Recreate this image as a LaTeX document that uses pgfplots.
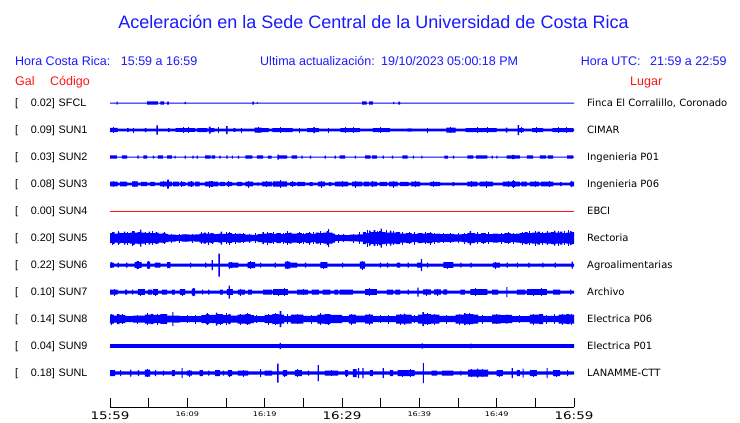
\documentclass[border=0pt]{standalone}
\usepackage{pgfplots}
\pgfplotsset{compat=1.18}
\usepackage{pgfplotstable}
\usepgfplotslibrary{fillbetween}
\usepackage{fontspec}
\setmainfont{Liberation Sans}
\newfontfamily\dv{DejaVu Sans}
\newfontfamily\dvw[FakeStretch=1.28]{DejaVu Sans}
\definecolor{tblue}{RGB}{0,0,255}
\definecolor{hblue}{RGB}{25,25,255}
\definecolor{hred}{RGB}{255,20,20}
\newcommand\tl{\dvw\fontsize{10.5pt}{11pt}\selectfont}
\newcommand\ts{\dvw\fontsize{6.4pt}{7pt}\selectfont}
\newcommand\hf{\fontsize{12.5pt}{14pt}\selectfont}
\newcommand\lf{\fontsize{10.8pt}{12pt}\selectfont}
\newcommand\rf{\dv\fontsize{10pt}{12pt}\selectfont}

% amplitude envelopes (t in minutes from 15:59, a = half-width of trace in px)
\pgfplotstableread{
t a
0 0.5
0.85 1.5
1.0 0.5
4.8 1.7
6.2 0.5
6.5 1.7
7.0 0.5
7.4 1.5
7.6 0.5
9.65 1.2
9.8 0.5
18.4 1.5
18.6 0.5
19.0 1.0
19.1 0.5
32.6 1.7
33.2 0.5
33.5 1.7
34.0 0.5
36.6 1.2
36.75 0.5
37.3 1.5
37.5 0.5
60 0.5
}\tSFCL
\pgfplotstableread{
t a
0 2.2
1.0 1.3
2.2 1.8
2.4 1.3
4.5 2.0
4.7 1.3
6.0 4.7
6.2 1.3
7.5 2.0
7.7 1.3
8.5 1.8
11.0 1.3
11.3 2.0
12.6 1.3
12.8 3.5
13.0 2.0
13.5 1.3
15.0 4.0
15.2 1.3
16.0 1.8
16.2 1.3
18.7 2.5
19.6 2.0
20.5 1.3
21.0 2.0
23.6 1.3
25.5 2.0
26.3 3.0
26.5 2.0
27.0 1.3
29.8 2.0
32.3 1.3
34.0 2.0
36.2 1.3
38.5 1.6
39.0 1.3
43.5 2.5
44.7 1.3
46.0 2.0
50.0 1.3
51.2 2.5
51.4 1.3
52.7 5.0
52.9 2.0
53.5 1.3
54.6 2.0
56.0 1.3
57.2 2.0
59.9 1.3
60 1.3
}\tSUNa
\pgfplotstableread{
t a
0 1.7
0.9 0.5
1.55 1.7
2.2 0.5
3.55 1.7
3.7 0.5
4.3 1.7
4.8 0.5
5.55 1.5
5.7 0.5
6.2 1.7
6.85 0.5
7.4 1.7
8.0 0.5
8.35 1.5
8.5 0.5
9.65 1.5
9.8 0.5
10.65 1.5
10.8 0.5
11.2 1.5
11.35 0.5
12.3 1.7
13.0 0.5
13.15 1.7
13.6 0.5
14.15 1.5
14.3 0.5
15.05 1.7
15.2 0.5
15.75 1.5
15.9 0.5
16.55 1.5
16.7 0.5
17.5 1.7
18.4 0.5
19.0 1.7
19.8 0.5
20.4 1.5
20.9 0.5
21.65 2.5
21.85 1.7
22.9 0.5
23.5 1.7
24.2 0.5
24.75 1.5
24.9 0.5
25.85 1.5
26.0 0.5
27.75 1.5
27.9 0.5
29.05 1.5
29.2 0.5
29.7 1.7
30.4 0.5
31.65 1.5
31.8 0.5
33.0 1.7
33.7 0.5
33.9 1.7
34.5 0.5
35.25 1.5
35.4 0.5
36.45 1.5
36.6 0.5
37.8 1.7
38.5 0.5
39.15 1.5
39.3 0.5
40.25 1.5
40.4 0.5
43.25 1.5
43.7 0.5
44.35 1.5
44.5 0.5
46.2 1.7
47.0 0.5
47.3 1.7
48.8 0.5
49.35 1.5
49.5 0.5
49.95 1.5
50.1 0.5
51.3 1.7
52.0 2.2
52.3 1.7
53.0 0.5
53.9 1.7
54.7 0.5
55.6 1.7
56.4 0.5
56.6 1.7
57.3 0.5
59.1 1.7
59.9 0.5
60 0.5
}\tSUNb
\pgfplotstableread{
t a
0 2.4
1.0 1.3
1.3 2.4
2.2 1.3
2.85 2.6
3.6 1.3
4.0 2.2
4.8 1.3
5.2 2.2
5.8 1.3
6.45 2.4
7.4 4.5
7.6 2.4
8.0 1.3
8.15 2.4
8.9 1.3
9.1 2.2
9.7 1.3
10.1 2.4
10.8 1.3
11.0 2.4
11.6 1.3
12.3 2.4
13.0 2.8
13.3 2.4
14.0 1.3
14.2 2.2
14.9 1.3
15.1 2.2
15.8 1.3
16.4 2.2
17.1 1.3
17.5 2.4
18.5 1.3
19.1 2.0
19.2 1.3
19.65 2.4
20.95 1.3
21.1 2.6
22.9 1.3
23.3 2.2
24.0 1.3
24.2 2.2
25.2 1.3
25.8 2.0
26.2 1.3
26.9 2.4
27.8 1.3
28.3 2.0
28.6 1.3
29.1 2.4
30.8 1.3
31.3 2.4
32.6 1.3
32.8 2.4
33.5 1.6
33.7 2.4
34.5 1.3
34.9 2.2
35.8 1.3
36.1 2.4
37.2 1.3
37.5 2.2
38.6 1.3
38.9 2.4
40.1 1.3
41.4 2.2
42.7 1.3
44.3 2.0
44.5 1.3
46.2 2.4
47.5 1.3
47.8 2.4
49.5 1.3
50.8 2.4
52.0 2.8
52.4 2.4
53.0 1.3
53.2 2.4
53.9 1.3
54.3 2.4
55.5 1.3
55.7 2.4
57.3 1.3
58.2 2.0
58.4 1.3
59.5 2.4
60 2.4
}\tSUNc
\pgfplotstableread{
t a
0 5
0.4 6
0.6 4.5
1.0 5.5
1.3 4.8
1.8 6.5
2.0 5
2.6 5.5
3.0 7
3.2 5.5
3.6 6
3.9 8.5
4.05 5.5
4.5 4.8
5.0 6.5
5.2 5
5.8 5.5
6.3 4.5
6.8 5.2
7.2 4.2
7.5 3.5
8.5 3.2
9.3 3.6
10.2 3.3
11.0 3.6
11.6 4.5
12.1 5.5
12.4 4.5
13.0 5
13.4 4
14.0 4.5
14.3 6.5
14.5 4.2
15.2 4.8
15.8 4
16.5 4.5
17.0 3.8
17.5 3.5
18.3 3.2
19.1 4
19.7 6
19.9 4.5
20.5 5
21.0 4.2
21.5 5
22.1 4
22.6 4.8
23.2 5.5
23.5 4.5
24.2 4.8
24.8 4
25.3 5
26.0 4.2
26.6 5.5
27.0 4.8
27.6 5.5
28.0 7
28.2 9
28.35 5.5
28.8 4.5
29.1 3.2
30.5 3
31.0 3.3
32.0 3.6
32.7 6
33.1 5
33.5 7.5
33.7 6
34.1 8
34.3 6
34.8 7
35.0 9.5
35.15 6
35.6 5.5
36.2 7.5
36.4 5.5
37.0 6
37.5 4.5
38.3 5
39.0 4.2
39.8 5
40.4 4.5
41.0 5
41.7 4.2
42.3 4.5
42.7 3.8
43.6 4.2
44.5 3.6
45.5 4
46.2 5
46.5 7
46.7 5
47.2 4.2
48.0 4.8
48.6 4
49.5 4.5
50.2 4
51.0 4.8
51.8 4.2
52.5 4.5
53.0 5
53.6 6
54.0 5
54.6 5.5
55.3 6.5
55.6 5
56.3 5.5
57.0 6
57.4 7.5
57.6 5.5
58.2 6.5
58.5 5
59.0 5.5
59.5 7
59.7 6
60 6
}\tSUNe
\pgfplotstableread{
t a
0 2.5
0.5 1.5
1.0 2.5
1.15 1.5
2.1 2.5
2.25 1.5
3.2 2.8
3.45 4
3.6 2.8
4.1 1.5
4.8 3.5
5.2 1.5
5.8 2.5
6.5 1.5
7.4 3
7.8 1.5
10.35 2.5
10.5 1.5
12.3 2.5
12.45 1.5
13.15 5
13.3 1.5
14.0 11.5
14.2 1.5
15.3 2.5
15.6 3
15.8 2.5
16.6 1.5
17.8 3
18.75 1.5
19.4 2.5
19.55 1.5
21.3 2.5
21.45 1.5
22.6 3.5
23.3 2.5
24.2 1.5
25.2 2.5
25.35 1.5
27.2 3
28.1 1.5
30.0 2.5
30.15 1.5
32.3 3.5
33.0 1.5
34.9 2.5
35.05 1.5
35.8 2.5
35.95 1.5
37.1 2.5
37.5 1.5
38.5 2.5
38.65 1.5
39.7 2.5
40.2 6
40.35 1.5
41.0 2.5
41.15 1.5
43.1 2.8
44.4 1.5
45.3 2.5
45.45 1.5
46.6 2.5
46.75 1.5
49.5 2.5
50.4 1.5
51.3 2.5
51.45 1.5
52.6 2.5
52.75 1.5
54.1 2.5
54.25 1.5
55.9 2.5
56.05 1.5
57.5 2.5
57.65 1.5
59.7 3.5
59.85 1.5
60 1.5
}\tSUNf
\pgfplotstableread{
t a
0 2.5
1.0 1.5
1.95 2.5
2.2 1.5
2.85 2.5
3.0 1.5
3.6 2.8
4.5 1.5
4.9 2.5
5.4 1.5
5.55 2.8
6.2 1.5
6.7 2.5
7.4 1.5
8.0 2.5
8.4 1.5
9.05 2.8
9.7 1.5
10.6 3.5
10.75 4
10.9 3.5
11.0 1.5
11.9 2.5
12.05 1.5
12.7 2.5
12.85 1.5
14.2 2.5
14.6 1.5
15.1 2.8
15.35 6.5
15.5 2.8
15.9 1.5
16.55 2.5
17.45 1.5
17.85 2.5
18.35 1.5
19.8 2.5
20.95 1.5
21.1 2.8
23.0 1.5
24.2 2.5
25.6 1.5
26.1 2.5
27.0 1.5
27.5 2.5
28.5 1.5
29.0 2.5
29.5 1.5
29.7 2.5
31.4 1.5
33.0 2.8
34.5 1.5
35.8 2.5
36.6 1.5
36.9 2.5
37.5 1.5
38.5 2.5
38.65 1.5
39.75 4.5
39.9 1.5
40.5 2.6
41.5 1.5
41.9 2.6
42.8 1.5
43.1 2.6
43.6 1.5
45.3 2.5
45.9 1.5
46.6 2.8
48.8 1.5
49.4 2.5
50.2 1.5
51.25 5
51.4 1.5
52.6 2.5
53.7 1.5
53.9 2.8
56.5 1.5
57.3 2.5
58.2 1.5
59.5 2.5
59.65 1.5
60 1.5
}\tSUNg
\pgfplotstableread{
t a
0 4.5
0.5 3.5
0.9 5
1.2 4.2
2.0 3
3.0 3.5
4.5 4.5
5.3 5.2
5.6 4.2
6.5 4.8
7.4 3.3
8.05 7
8.2 3.5
9.0 3
11.8 4
12.4 5
12.8 4.2
13.7 6.5
13.9 4.8
14.6 4
15.3 5
15.6 3.5
16.5 4.5
17.5 5
18.2 4
18.6 3
20.0 4.2
21.0 5
21.8 4.5
21.95 8
22.15 4.5
22.5 3
23.4 4.5
25.0 3.2
26.8 4.5
27.8 5
28.5 4.2
30.0 3
30.9 4.5
31.8 3.3
33.0 4.5
34.0 3
37.0 4.5
38.0 5.5
38.2 4.5
39.0 3
39.8 4.5
40.4 7
40.6 5
41.5 4.5
42.6 3.2
44.7 4.5
45.8 6
46.0 5
47.0 4.5
47.6 3
49.4 4.5
50.5 4
51.2 4.5
51.4 4.2
52.0 3
54.3 4.5
55.5 5
56.0 3.2
58.0 4.5
59.0 5
59.4 4.5
60 4.5
}\tSUNh
\pgfplotstableread{
t a
0 1.9
21.95 3.2
22.1 1.9
40.3 2.6
40.45 1.9
46.6 2.4
46.75 1.9
60 1.9
}\tSUNi
\pgfplotstableread{
t a
0 3
0.65 1.6
1.3 3
1.45 1.6
2.6 3.5
2.75 1.6
3.6 3
3.75 1.6
4.5 3.5
5.2 1.6
5.8 3
5.95 1.6
6.85 2.5
7.0 1.6
8.0 3
8.4 1.6
9.25 5
9.4 1.6
9.95 2.5
10.6 1.6
11.6 3
12.0 1.6
12.7 2.5
12.85 1.6
13.6 3
14.2 1.6
14.6 2.5
14.75 1.6
15.25 3
15.8 1.6
16.55 2.5
17.85 1.6
19.4 4
19.55 1.6
20.0 2.5
20.95 1.6
21.6 9.5
21.8 1.6
22.35 3
22.9 1.6
23.9 3
24.8 1.6
25.6 2.5
25.75 1.6
26.85 8
27.0 1.6
27.8 2.5
29.5 1.6
30.4 3
30.8 1.6
31.4 4
31.9 1.6
32.05 5
32.2 1.6
32.65 5
32.8 1.6
33.6 3
34.0 1.6
35.25 5
35.4 1.6
36.2 3
36.6 1.6
37.2 3
39.4 1.6
40.45 10
40.6 1.6
41.6 2.5
42.3 1.6
42.9 2.5
44.4 1.6
45.3 2.5
45.45 1.6
46.3 3.5
47.45 4.5
47.6 3.5
48.9 1.6
50.0 3
50.8 1.6
51.95 5
52.1 1.6
52.6 3
53.0 1.6
53.35 4.5
53.5 1.6
54.3 3
55.2 1.6
56.45 5
56.6 1.6
57.3 3
58.2 1.6
59.1 3
59.25 1.6
60 1.6
}\tSUNl

% narrow extra peaks (t, half-height in px)
\pgfplotstableread{
t a
0.5 3
3.0 2.5
9.5 3
10.2 2.8
14.0 3
17.0 2.5
19.2 3.2
22.0 2.8
24.5 2.5
28.2 2.5
30.5 3
31.5 2.8
35.0 2.8
41.0 2.5
44.0 3.2
47.5 3
48.8 2.8
53.2 3.2
55.2 2.8
58.0 3
59.0 2.8
}\pSUNa
\pgfplotstableread{
t a
0.5 3.2
3.2 3.2
6.9 3
9.3 3.2
10.5 3
12.9 3.5
15.3 3.2
17.9 3.5
20.2 3.3
22.0 3.8
23.6 3.2
27.3 3.5
30.0 3.3
31.8 3.5
34.0 3.2
36.6 3.5
39.5 3.3
41.8 3.2
46.8 3.3
48.7 3.5
51.5 3.3
52.2 3.8
55.0 3.3
56.8 3.2
59.7 3.3
}\pSUNc
\pgfplotstableread{
t a
0.3 6.5
1.1 7
2.2 6.5
2.9 7.5
4.6 6.5
5.5 7
6.0 6
7.0 6
8.0 4.5
9.0 4.5
9.8 4.2
10.7 4.5
11.8 6
12.7 6.5
13.2 5.5
15.0 6
15.5 6.5
16.2 5.5
17.2 5
18.0 4.5
18.8 5
20.3 6.5
21.2 6
22.4 5.5
23.0 7
24.5 6
25.0 5.5
25.8 6.5
26.3 6
27.2 7
29.6 4.5
30.2 4
31.5 4.5
32.3 6
33.3 8.5
34.6 7.5
35.8 8
36.7 7
37.8 6.5
38.7 6
39.4 6.5
40.8 6
41.4 6.5
42.0 5.5
43.1 5
44.0 5
45.0 5
45.8 5.5
47.5 6
48.3 5.5
49.0 6
50.6 5.5
51.5 6
52.2 5.5
53.3 6.5
54.3 7
55.0 7.5
55.9 6.5
56.6 7
58.0 7.5
58.8 7
59.3 8
}\pSUNe
\pgfplotstableread{
t a
0.2 3
3.7 4
5.0 4
15.5 3.5
18.2 4
23.0 4
27.6 3.5
32.6 4.5
43.7 3.5
49.8 3.5
}\pSUNf
\pgfplotstableread{
t a
0.6 3.5
4.0 3.5
5.9 3.5
9.4 3.5
16.9 3.5
21.8 3.5
22.6 3.8
25.0 3.2
33.6 3.8
40.9 3.5
42.3 3.5
47.3 3.8
54.7 3.5
55.8 3.8
}\pSUNg
\pgfplotstableread{
t a
0.2 5.5
1.6 5
3.5 4.5
4.9 6
6.2 5.5
7.0 5
10.0 4
11.0 4.5
12.6 6
14.3 5.5
15.0 6
16.9 5.5
17.8 6
19.0 4
20.5 5.5
21.4 6
23.0 5
24.2 5
26.0 4.5
27.2 6
28.2 5.5
29.3 4
31.2 5.5
33.5 5.5
35.0 4
36.0 4.5
37.5 5.5
39.4 4
41.0 6
41.9 5.5
43.5 4.5
45.2 5.5
46.5 6
48.2 4.5
50.0 5
53.0 4
54.8 5.5
56.5 4.5
57.5 5
58.5 5.5
59.7 5.5
}\pSUNh
\pgfplotstableread{
t a
4.8 4
10.3 3.5
15.5 3.5
17.2 3.5
22.6 3.5
24.3 3.8
28.6 3.2
30.6 3.5
37.8 3.5
38.8 3.8
46.8 4
48.2 4
50.4 3.5
54.7 3.5
57.7 3.5
}\pSUNl

\newcommand\trace[3]{%
  \addplot[name path=U#3, draw=none, const plot, forget plot] table[x=t, y expr=#1+\thisrow{a}] {#2};
  \addplot[name path=L#3, draw=none, const plot, forget plot] table[x=t, y expr=#1-\thisrow{a}] {#2};
  \addplot[tblue, draw=none, forget plot] fill between[of=U#3 and L#3];
}
\newcommand\peaks[2]{%
  \addplot[tblue, draw=none, mark=none, forget plot,
    error bars/.cd, y dir=both, y explicit, error mark=none,
    error bar style={draw=tblue, line width=0.9pt}]
    table[x=t, y expr=#1, y error=a] {#2};
}

\newcommand\lrow[4]{%
  \node[anchor=base west, inner sep=0pt, font=\lf] at (15,#1+3.8) {[};
  \node[anchor=base east, inner sep=0pt, font=\lf] at (55.2,#1+3.8) {#2]};
  \node[anchor=base west, inner sep=0pt, font=\lf] at (58.5,#1+3.8) {#3};
  \node[anchor=base west, inner sep=0pt, font=\rf] at (587,#1+3.6) {#4};
}

\begin{document}
\begin{tikzpicture}
\path (0pt,0pt) rectangle (740pt,-423pt);
\begin{axis}[
  at={(110pt,-407pt)}, anchor=south west,
  scale only axis, width=464pt, height=317pt,
  xmin=0, xmax=60, ymin=-407, ymax=-90,
  axis x line*=bottom, axis y line=none,
  axis line style={-, black, line width=1pt},
  xtick={0,5,...,60},
  tick align=inside, major tick length=9pt,
  xtick style={black, line width=1pt},
  xticklabels={{\tl 15:59},{},{\ts 16:09},{},{\ts 16:19},{},{\tl 16:29},{},{\ts 16:39},{},{\ts 16:49},{},{\tl 16:59}},
  xticklabel style={anchor=north, inner sep=0pt, yshift=-4.5pt},
  clip=false,
]
\trace{-103}{\tSFCL}{a}
\trace{-130}{\tSUNa}{b}
\peaks{-130}{\pSUNa}
\trace{-157}{\tSUNb}{c}
\trace{-184}{\tSUNc}{d}
\peaks{-184}{\pSUNc}
\addplot[hred, line width=1pt, forget plot] coordinates {(0,-211) (60,-211)};
\trace{-238}{\tSUNe}{f}
\peaks{-238}{\pSUNe}
\trace{-265}{\tSUNf}{g}
\peaks{-265}{\pSUNf}
\trace{-292}{\tSUNg}{h}
\peaks{-292}{\pSUNg}
\trace{-319}{\tSUNh}{i}
\peaks{-319}{\pSUNh}
\trace{-346}{\tSUNi}{j}
\trace{-373}{\tSUNl}{k}
\peaks{-373}{\pSUNl}
\end{axis}
\begin{scope}[x=1pt, y=-1pt]
\node[anchor=base, inner sep=0pt, text=hblue, font=\fontsize{18pt}{20pt}\selectfont] at (373.5,28.5) {Aceleración en la Sede Central de la Universidad de Costa Rica};
\node[anchor=base west, inner sep=0pt, text=hblue, font=\hf] at (15,65) {Hora Costa Rica:};
\node[anchor=base west, inner sep=0pt, text=hblue, font=\hf] at (120.7,65) {15:59 a 16:59};
\node[anchor=base west, inner sep=0pt, text=hblue, font=\hf] at (260,65) {Ultima actualización:};
\node[anchor=base west, inner sep=0pt, text=hblue, font=\hf] at (381,65) {19/10/2023 05:00:18 PM};
\node[anchor=base west, inner sep=0pt, text=hblue, font=\hf] at (580.7,65) {Hora UTC:};
\node[anchor=base west, inner sep=0pt, text=hblue, font=\hf] at (650,65) {21:59 a 22:59};
\node[anchor=base west, inner sep=0pt, text=hred, font=\hf] at (15,85) {Gal};
\node[anchor=base west, inner sep=0pt, text=hred, font=\hf] at (50,85) {Código};
\node[anchor=base west, inner sep=0pt, text=hred, font=\hf] at (630,85) {Lugar};
\lrow{103}{0.02}{SFCL}{Finca El Corralillo, Coronado}
\lrow{130}{0.09}{SUN1}{CIMAR}
\lrow{157}{0.03}{SUN2}{Ingenieria P01}
\lrow{184}{0.08}{SUN3}{Ingenieria P06}
\lrow{211}{0.00}{SUN4}{EBCI}
\lrow{238}{0.20}{SUN5}{Rectoria}
\lrow{265}{0.22}{SUN6}{Agroalimentarias}
\lrow{292}{0.10}{SUN7}{Archivo}
\lrow{319}{0.14}{SUN8}{Electrica P06}
\lrow{346}{0.04}{SUN9}{Electrica P01}
\lrow{373}{0.18}{SUNL}{LANAMME-CTT}
\end{scope}
\end{tikzpicture}
\end{document}
